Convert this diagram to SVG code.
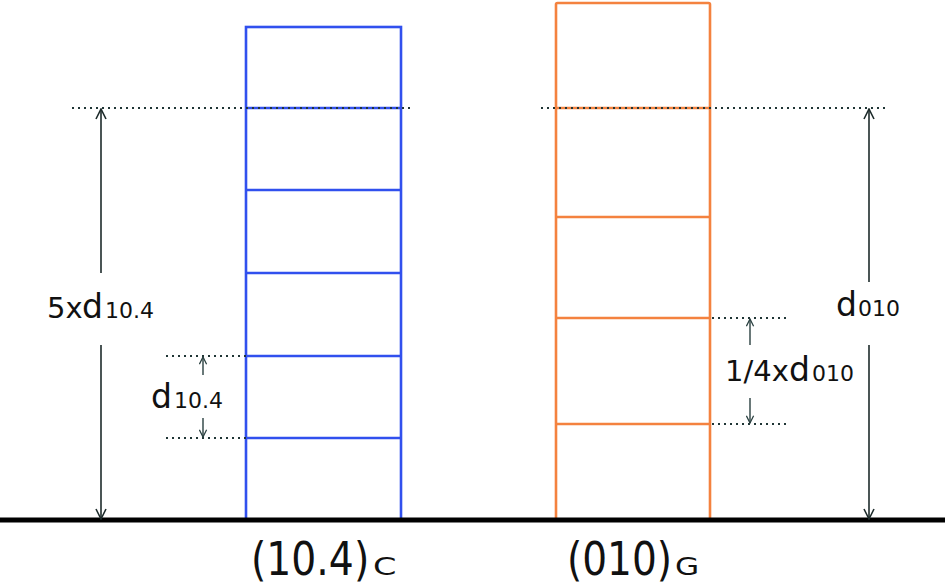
<svg xmlns="http://www.w3.org/2000/svg" width="945" height="587" viewBox="0 0 945 587">
<defs>
<marker id="ah" viewBox="0 0 12 12" refX="11" refY="6" markerWidth="12" markerHeight="12" markerUnits="userSpaceOnUse" orient="auto-start-reverse">
<path d="M1,1 L11,6 L1,11" fill="none" stroke="#1d2b2b" stroke-width="1.6"/>
</marker>
<marker id="ahs" viewBox="0 0 10 10" refX="9" refY="5" markerWidth="9" markerHeight="9" markerUnits="userSpaceOnUse" orient="auto-start-reverse">
<path d="M1,1 L9,5 L1,9" fill="none" stroke="#2a4040" stroke-width="1.4"/>
</marker>
</defs>
<style>
.blue{fill:none;stroke:#3150ee;stroke-width:2.6}
.orange{fill:none;stroke:#f4823f;stroke-width:2.6}
.dot{stroke:#1f3535;stroke-width:2.2;stroke-dasharray:2 4;fill:none}
.dim{stroke:#1d2b2b;stroke-width:1.6;fill:none}
.sdim{stroke:#2a4040;stroke-width:1.4;fill:none}
.t{font-family:"DejaVu Sans","Verdana",sans-serif;fill:#111}
</style>
<rect width="945" height="587" fill="#fff"/>

<g id="stack-c">
<rect class="blue" x="246" y="27" width="155" height="493"/>
<line class="blue" x1="246" y1="108" x2="401" y2="108"/>
<line class="blue" x1="246" y1="190" x2="401" y2="190"/>
<line class="blue" x1="246" y1="273" x2="401" y2="273"/>
<line class="blue" x1="246" y1="356" x2="401" y2="356"/>
<line class="blue" x1="246" y1="438" x2="401" y2="438"/>
</g>

<g id="stack-g">
<rect class="orange" x="556" y="3" width="154" height="517" rx="1.5"/>
<line class="orange" x1="556" y1="108" x2="710" y2="108"/>
<line class="orange" x1="556" y1="217" x2="710" y2="217"/>
<line class="orange" x1="556" y1="318" x2="710" y2="318"/>
<line class="orange" x1="556" y1="424" x2="710" y2="424"/>
</g>

<g id="baseline">
<line x1="0" y1="520" x2="945" y2="520" stroke="#000" stroke-width="5"/>
</g>

<g id="connectors">
<line class="dot" x1="72" y1="108" x2="410" y2="108"/>
<line class="dot" x1="541" y1="108" x2="886" y2="108"/>
<line class="dot" x1="166" y1="356" x2="246" y2="356"/>
<line class="dot" x1="166" y1="438" x2="246" y2="438"/>
<line class="dot" x1="712" y1="318" x2="790" y2="318"/>
<line class="dot" x1="712" y1="424" x2="790" y2="424"/>
<line class="dim" x1="101" y1="273" x2="101" y2="109" marker-end="url(#ah)"/>
<line class="dim" x1="101" y1="345" x2="101" y2="519" marker-end="url(#ah)"/>
<line class="dim" x1="869" y1="282" x2="869" y2="109" marker-end="url(#ah)"/>
<line class="dim" x1="869" y1="345" x2="869" y2="519" marker-end="url(#ah)"/>
<line class="sdim" x1="203" y1="375" x2="203" y2="357" marker-end="url(#ahs)"/>
<line class="sdim" x1="203" y1="418" x2="203" y2="437" marker-end="url(#ahs)"/>
<line class="sdim" x1="750" y1="345" x2="750" y2="319" marker-end="url(#ahs)"/>
<line class="sdim" x1="750" y1="398" x2="750" y2="423" marker-end="url(#ahs)"/>
</g>

<g id="label-5xd">
<text class="t" x="47" y="318" font-size="29">5x</text>
<text class="t" x="82" y="318" font-size="33">d</text>
<text class="t" x="105" y="318" font-size="22">10.4</text>
</g>
<g id="label-d104">
<text class="t" x="151" y="408" font-size="33">d</text>
<text class="t" x="174" y="408" font-size="22">10.4</text>
</g>
<g id="label-d010">
<text class="t" x="836" y="316" font-size="33">d</text>
<text class="t" x="858" y="316" font-size="22">010</text>
</g>
<g id="label-quarter">
<text class="t" x="725" y="381" font-size="29">1/4x</text>
<text class="t" x="789" y="381" font-size="33">d</text>
<text class="t" x="812" y="381" font-size="22">010</text>
</g>
<g id="label-104c">
<text class="t" font-size="46" transform="translate(251,575) scale(0.855,1)">(10.4)</text>
<text class="t" font-size="24" transform="translate(373,575) scale(1.4,1)">C</text>
</g>
<g id="label-010g">
<text class="t" font-size="46" transform="translate(567,575) scale(0.85,1)">(010)</text>
<text class="t" font-size="24" transform="translate(675,575) scale(1.3,1)">G</text>
</g>
</svg>
